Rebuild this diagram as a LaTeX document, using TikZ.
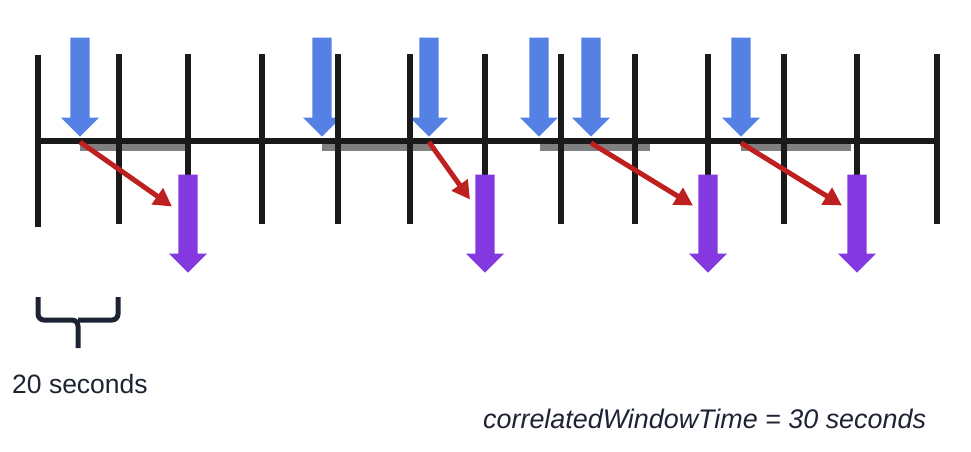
\documentclass[tikz,border=0pt]{standalone}
\usepackage{fontspec}
\setmainfont{Liberation Sans}
\usetikzlibrary{shapes.arrows,arrows.meta,calc}

\begin{document}
\begin{tikzpicture}[
	x=1pt, y=-1pt,
	line cap=butt,
	every node/.style={inner sep=0pt}
	]
	% colours
	\definecolor{evBlue}{HTML}{5581E5}
	\definecolor{evPurple}{HTML}{8339DF}
	\definecolor{evRed}{HTML}{BE2020}
	\definecolor{evGray}{HTML}{808080}
	\definecolor{evBlack}{HTML}{1A1A1A}
	\definecolor{evText}{HTML}{1E2333}
	
	% styles
	\tikzset{
		inarrow/.style={single arrow, fill=evBlue, minimum height=99pt, minimum width=38pt,
			single arrow head extend=9.5pt, inner xsep=0pt, inner ysep=9.5pt,
			rotate=-90, anchor=tip},
		outarrow/.style={inarrow, fill=evPurple, minimum height=98pt},
		link/.style={draw=evRed, line width=5pt, -{Triangle[length=18pt,width=19pt]}},
		window/.style={fill=evGray},
		tickline/.style={draw=evBlack, line width=5.5pt},
		brace/.style={draw=evText, line width=5pt, rounded corners=6pt},
		txt/.style={font=\fontsize{26.5}{32}\selectfont, text=evText, anchor=base west}
	}
	
	\useasboundingbox (0,0) rectangle (971,451);
	
	% ===== incoming events =====
	\node[inarrow] (in1) at (80,137) {};
	\node[inarrow] (in2) at (322,137) {};
	\node[inarrow] (in3) at (429,137) {};
	\node[inarrow] (in4) at (539,137) {};
	\node[inarrow] (in5) at (591,137) {};
	\node[inarrow] (in6) at (741,137) {};
	
	% ===== correlation windows =====
	\foreach \s in {80,322,540,741}
		\fill[window] (\s,143) rectangle ++(110,7.5);
	
	% ===== timeline =====
	\draw[tickline] (38,55) -- (38,227);
	\foreach \t in {119,188,262,338,410,485,561,635,708,784,857,937}
		\draw[tickline] (\t,54) -- (\t,224);
	\draw[evBlack, line width=5.5pt] (38,141) -- (937,141);
	
	% ===== outgoing events =====
	\node[outarrow] (out1) at (188,273) {};
	\node[outarrow] (out2) at (485,273) {};
	\node[outarrow] (out3) at (708,273) {};
	\node[outarrow] (out4) at (857,273) {};
	
	% links
	\draw[link] ($(in1.tip)+(0,5)$) -- ($(out1.tail)+(-16,32)$);
	\draw[link] ($(in3.tip)+(0,5)$) -- ($(out2.tail)+(-15,25)$);
	\draw[link] ($(in5.tip)+(0,6)$) -- ($(out3.tail)+(-15,31)$);
	\draw[link] ($(in6.tip)+(0,6)$) -- ($(out4.tail)+(-15,31)$);
	
	% ===== bracket + labels =====
	\draw[brace] (38,297) |- (78,320) -- (78,348);
	\draw[brace] (118,297) |- (78,320);
	\node[txt] (sec) at (12,393) {20 seconds};
	\node[txt, font=\fontsize{26.9}{32}\selectfont\itshape] (cwt) at (483,428) {correlatedWindowTime = 30 seconds};
	
\end{tikzpicture}
\end{document}
